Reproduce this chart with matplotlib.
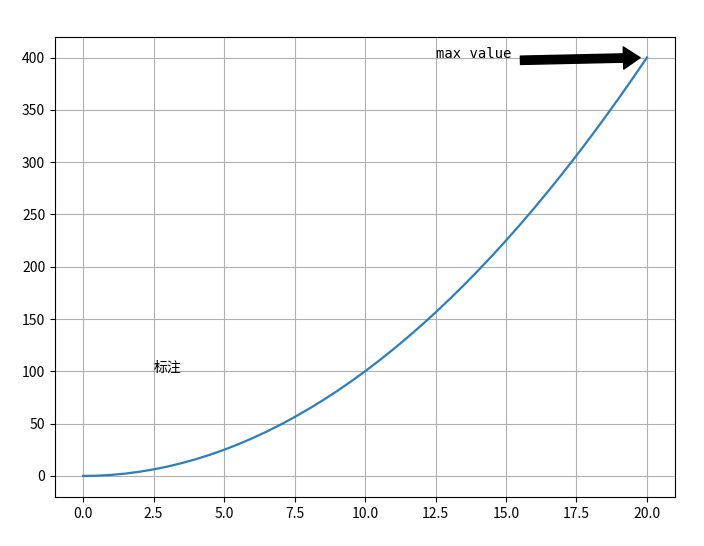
import matplotlib
matplotlib.use("Agg")
import matplotlib.pyplot as plt

plt.rcParams['font.family'] = ['Noto Sans CJK SC', 'DejaVu Sans']
plt.rcParams['axes.unicode_minus'] = False

# y = x^2 every half unit
x = [0, 0.5, 1, 1.5, 2, 2.5, 3, 3.5, 4, 4.5, 5, 5.5, 6, 6.5, 7, 7.5, 8, 8.5,
     9, 9.5, 10, 10.5, 11, 11.5, 12, 12.5, 13, 13.5, 14, 14.5, 15, 15.5, 16,
     16.5, 17, 17.5, 18, 18.5, 19, 19.5, 20]
y = [0, 0.25, 1, 2.25, 4, 6.25, 9, 12.25, 16, 20.25, 25, 30.25, 36, 42.25,
     49, 56.25, 64, 72.25, 81, 90.25, 100, 110.25, 121, 132.25, 144, 156.25,
     169, 182.25, 196, 210.25, 225, 240.25, 256, 272.25, 289, 306.25, 324,
     342.25, 361, 380.25, 400]

max_point = (20, 400)
max_text_pos = (12.5, 400)
note_pos = (2.5, 100)

fig = plt.figure(figsize=(7.04, 5.46), dpi=100)
ax = fig.add_axes([0.078, 0.09, 0.881, 0.843])
ax.plot(x, y, color='#2a7fc0', linewidth=1.6)
ax.grid(True)

ax.annotate('max value', xy=max_point, xytext=max_text_pos,
            family='DejaVu Sans Mono', fontsize=10,
            arrowprops=dict(facecolor='black', shrink=0.05, width=6, headwidth=16))
ax.text(note_pos[0], note_pos[1], '标注')

fig.savefig('out.png', dpi=100)
